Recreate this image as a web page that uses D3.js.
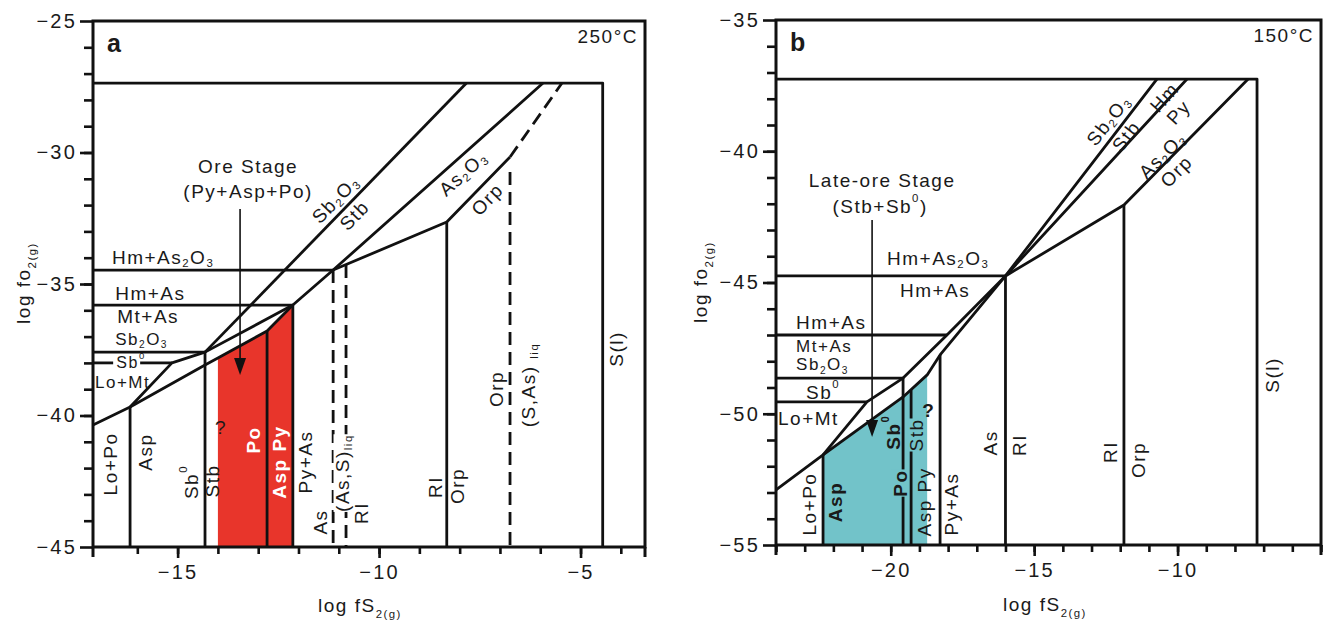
<!DOCTYPE html>
<html>
<head>
<meta charset="utf-8">
<script src="https://cdn.jsdelivr.net/npm/d3@7"></script>
<style>
  body { margin: 0; background: #fff; }
  svg text { font-family: "Liberation Sans", Arial, sans-serif; fill: #1a1a1a; font-size: 19px; letter-spacing: 1.5px; }
</style>
</head>
<body>
<div id="chart"></div>
<script>
// ---------------- Panel a (250°C) ----------------
const aXDomain = [-17.1, -3.4];
const aYDomain = [-45, -25];
const aXMinor = d3.range(-16, -3);
const aXMajor = [-15, -10, -5];
const aYMinor = d3.range(-44, -25);
const aYMajor = [-45, -40, -35, -30, -25];

// phase boundaries, [logfS2, logfO2]
const aSolid = [
  [[-17.1, -27.36], [-4.45, -27.36], [-4.45, -45]],
  [[-17.1, -34.47], [-11.14, -34.47]],
  [[-17.1, -35.80], [-12.14, -35.80]],
  [[-17.1, -37.59], [-14.32, -37.59]],
  [[-17.1, -38.0], [-16.6, -38.0]],
  [[-15.93, -38.0], [-15.14, -38.0]],
  [[-17.1, -40.36], [-16.18, -39.68], [-14.32, -38.08], [-14.0, -37.81], [-12.78, -36.79], [-12.14, -35.80]],
  [[-16.18, -39.68], [-15.14, -38.0], [-14.32, -37.59], [-12.14, -35.80], [-11.14, -34.47], [-5.93, -27.36]],
  [[-14.32, -37.59], [-7.83, -27.36]],
  [[-11.14, -34.47], [-8.32, -32.64], [-6.75, -30.17]]
];
const aDashed = [
  [[-6.75, -30.17], [-5.46, -27.36]]
];
// vertical boundaries: [x, top]; they run down to the x axis
const aVert = [[-16.18, -39.68], [-14.32, -37.59], [-12.78, -36.79], [-12.14, -35.80], [-8.32, -32.64]];
const aVertDashed = [[-11.14, -34.47], [-10.82, -34.28], [-6.75, -30.74]];
const aField = [[-14.0, -37.81], [-12.78, -36.79], [-12.14, -35.80], [-12.14, -45], [-14.0, -45]];
const aArrow = [-13.45, -32.15, -38.46];

const aLabels = [
  {t: "Ore Stage", x: -13.25, y: -30.51},
  {t: "(Py+Asp+Po)", x: -13.25, y: -31.46},
  {t: "Hm+As_{2}O_{3}", x: -16.63, y: -33.97, a: "start"},
  {t: "Hm+As", x: -16.55, y: -35.34, a: "start"},
  {t: "Mt+As", x: -16.50, y: -36.22, a: "start"},
  {t: "Sb_{2}O_{3}", x: -16.55, y: -37.09, a: "start", s: "sm"},
  {t: "Sb^{0}", x: -16.52, y: -37.96, a: "start", s: "xs"},
  {t: "Lo+Mt", x: -17.05, y: -38.72, a: "start", s: "sm"},
  {t: "Lo+Po", x: -16.68, y: -41.84, r: -90},
  {t: "Asp", x: -15.81, y: -41.39, r: -90},
  {t: "Sb^{0}", x: -14.67, y: -42.53, r: -90},
  {t: "Stb", x: -14.15, y: -42.49, r: -90},
  {t: "?", x: -13.92, y: -40.44},
  {t: "Po", x: -13.13, y: -40.93, r: -90, s: "w"},
  {t: "Asp Py", x: -12.48, y: -41.77, r: -90, s: "w"},
  {t: "Py+As", x: -11.84, y: -41.77, r: -90},
  {t: "As", x: -11.47, y: -44.05, r: -90},
  {t: "(As,S)_{liq}", x: -10.92, y: -42.19, r: -90, bg: "#fff"},
  {t: "RI", x: -10.45, y: -43.71, r: -90},
  {t: "RI", x: -8.61, y: -42.72, r: -90},
  {t: "Orp", x: -8.07, y: -42.68, r: -90},
  {t: "Orp", x: -7.10, y: -38.99, r: -90},
  {t: "(S,As) _{liq}", x: -6.30, y: -38.84, r: -90},
  {t: "S(l)", x: -4.12, y: -37.47, r: -90},
  {t: "Sb_{2}O_{3}", x: -11.09, y: -31.77, r: -46},
  {t: "Stb", x: -10.62, y: -32.38, r: -46},
  {t: "As_{2}O_{3}", x: -7.92, y: -30.78, r: -42},
  {t: "Orp", x: -7.32, y: -31.77, r: -46}
];

// ---------------- Panel b (150°C) ----------------
const bXDomain = [-24, -5];
const bYDomain = [-55, -35];
const bXMinor = d3.range(-24, -4);
const bXMajor = [-20, -15, -10];
const bYMinor = d3.range(-54, -35);
const bYMajor = [-55, -50, -45, -40, -35];

const bSolid = [
  [[-24, -37.25], [-7.23, -37.25], [-7.23, -55]],
  [[-24, -44.75], [-16.0, -44.75]],
  [[-24, -47.0], [-18.04, -47.0]],
  [[-24, -48.64], [-19.57, -48.64]],
  [[-24, -49.55], [-20.83, -49.55]],
  [[-24, -52.9], [-22.36, -51.57], [-19.57, -49.36], [-18.73, -48.52], [-18.28, -47.76], [-16.0, -44.75], [-9.67, -37.25]],
  [[-22.36, -51.57], [-20.83, -49.55], [-19.57, -48.64], [-18.04, -47.0], [-16.0, -44.75], [-10.72, -37.25]],
  [[-16.0, -44.75], [-11.87, -42.05], [-7.54, -37.25]]
];
const bDashed = [];
const bVert = [[-22.36, -51.57], [-19.57, -48.64], [-19.29, -49.1], [-18.28, -47.76], [-16.0, -44.75], [-11.87, -42.05]];
const bVertDashed = [];
const bField = [[-22.36, -51.57], [-19.57, -49.36], [-18.73, -48.52], [-18.73, -55], [-22.36, -55]];
const bArrow = [-20.65, -42.62, -50.89];

const bLabels = [
  {t: "Late-ore Stage", x: -20.30, y: -41.10},
  {t: "(Stb+Sb^{0})", x: -20.37, y: -42.09},
  {t: "Hm+As_{2}O_{3}", x: -20.13, y: -44.07, a: "start"},
  {t: "Hm+As", x: -19.68, y: -45.29, a: "start"},
  {t: "Hm+As", x: -23.30, y: -46.5, a: "start"},
  {t: "Mt+As", x: -23.30, y: -47.42, a: "start", s: "sm"},
  {t: "Sb_{2}O_{3}", x: -23.30, y: -48.12, a: "start", s: "sm"},
  {t: "Sb^{0}", x: -22.95, y: -49.17, a: "start"},
  {t: "Lo+Mt", x: -23.93, y: -50.16, a: "start"},
  {t: "Lo+Po", x: -22.85, y: -53.44, r: -90},
  {t: "Asp", x: -21.94, y: -53.36, r: -90, s: "b"},
  {t: "Sb^{0}", x: -19.92, y: -50.70, r: -90, s: "b"},
  {t: "Stb", x: -19.12, y: -50.81, r: -90, bg: "#72c3c9"},
  {t: "?", x: -18.67, y: -49.86, s: "b"},
  {t: "Po", x: -19.68, y: -52.64, r: -90, s: "b", bg: "#72c3c9"},
  {t: "Asp Py", x: -18.84, y: -53.36, r: -90},
  {t: "Py+As", x: -17.90, y: -53.44, r: -90},
  {t: "As", x: -16.54, y: -51.11, r: -90},
  {t: "RI", x: -15.53, y: -51.19, r: -90},
  {t: "RI", x: -12.35, y: -51.46, r: -90},
  {t: "Orp", x: -11.38, y: -51.76, r: -90},
  {t: "S(l)", x: -6.71, y: -48.52, r: -90},
  {t: "Sb_{2}O_{3}", x: -12.42, y: -38.81, r: -52},
  {t: "Stb", x: -11.80, y: -39.42, r: -52},
  {t: "Hm", x: -10.47, y: -37.93, r: -48},
  {t: "Py", x: -9.98, y: -38.50, r: -48},
  {t: "As_{2}O_{3}", x: -10.54, y: -40.14, r: -45},
  {t: "Orp", x: -10.05, y: -40.75, r: -45}
];

const svg = d3.select("#chart").append("svg")
  .attr("width", 1326)
  .attr("height", 621);

// text with _{sub} and ^{sup} pieces
function richText(sel, str, fs) {
  const parts = str.split(/([_^]\{[^}]*\})/).filter(s => s.length);
  let back = 0;
  parts.forEach(p => {
    if (p[0] === "_" || p[0] === "^") {
      const shift = p[0] === "_" ? fs * 0.3 : -fs * 0.42;
      sel.append("tspan").attr("font-size", fs * 0.6).attr("dy", shift + back).text(p.slice(2, -1));
      back = -shift;
    } else {
      sel.append("tspan").attr("dy", back).text(p);
      back = 0;
    }
  });
}

const sizes = {sm: 17, xs: 16};

function drawPanel(p) {
  const x = d3.scaleLinear().domain(p.xDomain).range([p.left, p.right]);
  const y = d3.scaleLinear().domain(p.yDomain).range([p.bottom, p.top]);
  const yBase = p.yDomain[0];
  const g = svg.append("g");
  const line = d3.line().x(d => x(d[0])).y(d => y(d[1]));

  // coloured stability field
  g.append("path")
    .attr("d", line(p.field) + "Z")
    .attr("fill", p.fieldColor);

  // frame
  g.append("rect")
    .attr("x", p.left).attr("y", p.top)
    .attr("width", p.right - p.left).attr("height", p.bottom - p.top)
    .attr("fill", "none").attr("stroke", "#111").attr("stroke-width", 3);

  const verts = p.vert.map(d => [[d[0], d[1]], [d[0], yBase]]);
  const vertsD = p.vertDashed.map(d => [[d[0], d[1]], [d[0], yBase]]);

  g.selectAll(".solid").data(p.solid.concat(verts)).join("path")
    .attr("class", "solid")
    .attr("d", line)
    .attr("fill", "none")
    .attr("stroke", "#111")
    .attr("stroke-width", 2.8)
    .attr("stroke-linejoin", "round");

  g.selectAll(".dash").data(p.dashed.concat(vertsD)).join("path")
    .attr("class", "dash")
    .attr("d", line)
    .attr("fill", "none")
    .attr("stroke", "#111")
    .attr("stroke-width", 2.8)
    .attr("stroke-dasharray", "13,7");

  // arrow
  const [ax, ay0, ay1] = p.arrow;
  g.append("line")
    .attr("x1", x(ax)).attr("x2", x(ax))
    .attr("y1", y(ay0)).attr("y2", y(ay1) - 14)
    .attr("stroke", "#111").attr("stroke-width", 1.6);
  g.append("path")
    .attr("d", `M${x(ax) - 6},${y(ay1) - 17}L${x(ax) + 6},${y(ay1) - 17}L${x(ax)},${y(ay1)}Z`)
    .attr("fill", "#111");

  // axes
  const xAx = g.append("g").attr("transform", `translate(0,${p.bottom})`);
  xAx.call(d3.axisBottom(x).tickValues(p.xMinor).tickSize(7).tickSizeOuter(0).tickFormat(""));
  xAx.append("g").call(d3.axisBottom(x).tickValues(p.xMajor).tickSize(11).tickSizeOuter(0).tickPadding(7));
  const yAx = g.append("g").attr("transform", `translate(${p.left},0)`);
  yAx.call(d3.axisLeft(y).tickValues(p.yMinor).tickSize(9).tickSizeOuter(0).tickFormat(""));
  yAx.append("g").call(d3.axisLeft(y).tickValues(p.yMajor).tickSize(13).tickSizeOuter(0).tickPadding(3));
  g.selectAll(".domain").remove();
  g.selectAll(".tick line").attr("stroke", "#111").attr("stroke-width", 2.6);
  g.selectAll(".tick text").attr("fill", "#1a1a1a").style("font-size", "20px")
    .style("letter-spacing", "2.2px")
    .style("font-family", "Liberation Sans, Arial, sans-serif");
  // frame corners run past the x axis like ticks
  [p.left, p.right].forEach(px => g.append("line")
    .attr("x1", px).attr("x2", px).attr("y1", p.bottom).attr("y2", p.bottom + 10)
    .attr("stroke", "#111").attr("stroke-width", 3));

  // axis titles
  const xt = g.append("text").attr("x", p.xTitle[0]).attr("y", p.xTitle[1]).attr("text-anchor", "middle");
  richText(xt, "log fS_{2(g)}", 19);
  const yt = g.append("text")
    .attr("transform", `translate(${p.yTitle[0]},${p.yTitle[1]}) rotate(-90)`)
    .attr("text-anchor", "middle");
  richText(yt, "log fo_{2(g)}", 19);

  // panel letter and temperature
  g.append("text").attr("x", p.left + 14).attr("y", p.top + 31)
    .style("font-size", "25px").style("font-weight", "bold").style("letter-spacing", "0px")
    .text(p.letter);
  g.append("text").attr("x", p.right - 7).attr("y", p.top + 22)
    .attr("text-anchor", "end").text(p.temp);

  // phase labels
  p.labels.forEach(d => {
    const lg = g.append("g")
      .attr("transform", `translate(${x(d.x)},${y(d.y)}) rotate(${d.r || 0})`);
    const fs = sizes[d.s] || 19;
    const t = lg.append("text")
      .attr("text-anchor", d.a || "middle")
      .attr("dominant-baseline", "central")
      .style("font-size", fs + "px");
    if (d.s === "w") t.style("fill", "#fff").style("font-weight", "bold");
    if (d.s === "b") t.style("font-weight", "bold");
    richText(t, d.t, fs);
    if (d.bg) {
      const bb = t.node().getBBox();
      lg.insert("rect", "text")
        .attr("x", bb.x).attr("y", bb.y + 2)
        .attr("width", bb.width).attr("height", bb.height - 4)
        .attr("fill", d.bg);
    }
  });
}

drawPanel({
  xDomain: aXDomain, yDomain: aYDomain,
  left: 93, right: 645, top: 21, bottom: 547,
  xMinor: aXMinor, xMajor: aXMajor, yMinor: aYMinor, yMajor: aYMajor,
  solid: aSolid, dashed: aDashed, vert: aVert, vertDashed: aVertDashed,
  field: aField, fieldColor: "#e8352b", arrow: aArrow, labels: aLabels,
  xTitle: [360, 612], yTitle: [30, 283], letter: "a", temp: "250°C"
});

drawPanel({
  xDomain: bXDomain, yDomain: bYDomain,
  left: 776, right: 1321, top: 20, bottom: 545,
  xMinor: bXMinor, xMajor: bXMajor, yMinor: bYMinor, yMajor: bYMajor,
  solid: bSolid, dashed: bDashed, vert: bVert, vertDashed: bVertDashed,
  field: bField, fieldColor: "#72c3c9", arrow: bArrow, labels: bLabels,
  xTitle: [1045, 611], yTitle: [707, 282], letter: "b", temp: "150°C"
});
</script>
</body>
</html>
